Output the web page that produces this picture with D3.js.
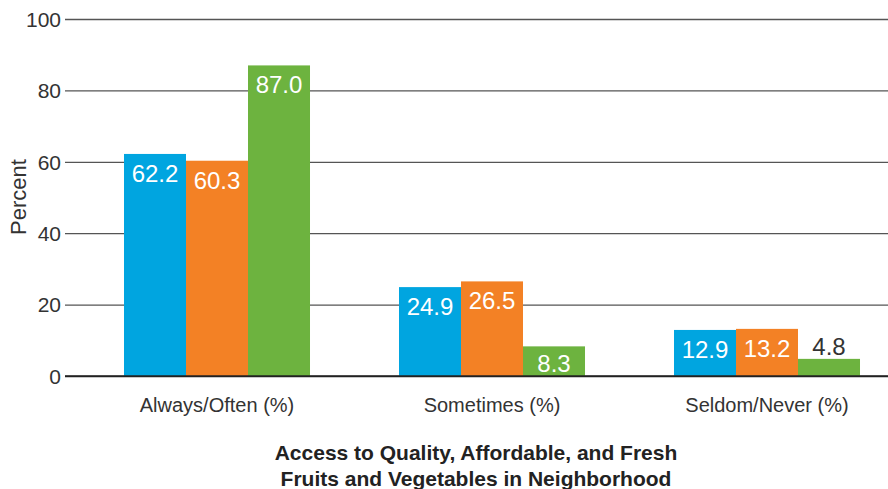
<!DOCTYPE html>
<html>
<head>
<meta charset="utf-8">
<script src="https://cdn.jsdelivr.net/npm/d3@7"></script>
<style>
  body { margin: 0; background: #fff; }
  text { font-family: "Liberation Sans", Arial, sans-serif; }
</style>
</head>
<body>
<div id="chart"></div>
<script>
var categories = ["Always/Often (%)", "Sometimes (%)", "Seldom/Never (%)"];
var seriesNames = ["s1", "s2", "s3"];
var blueValues = [62.2, 24.9, 12.9];
var orangeValues = [60.3, 26.5, 13.2];
var greenValues = [87.0, 8.3, 4.8];
var yTicks = [0, 20, 40, 60, 80, 100];
var colors = ["#00a5e0", "#f38125", "#6db33f"];

var width = 888, height = 489;

var svg = d3.select("#chart").append("svg")
  .attr("width", width)
  .attr("height", height);

var y = d3.scaleLinear().domain([0, 100]).range([376, 19]);

var x = d3.scaleBand()
  .domain(categories)
  .range([79.5, 904.5])
  .paddingInner(0.3236)
  .paddingOuter(0.1618);

var xs = d3.scaleBand()
  .domain(seriesNames)
  .range([0, x.bandwidth()]);

// gridlines
var yAxis = d3.axisLeft(y)
  .tickValues(yTicks)
  .tickSize(-(888 - 65))
  .tickPadding(4);

var gAxis = svg.append("g")
  .attr("transform", "translate(65,0)")
  .call(yAxis);
gAxis.select(".domain").remove();
gAxis.selectAll(".tick line")
  .attr("stroke", function(d) { return d === 0 ? "#222" : "#555"; })
  .attr("stroke-width", 1.3);
gAxis.selectAll(".tick text")
  .attr("fill", "#333")
  .style("font-size", "21px")
  .attr("dy", "0.35em");

// bars
var rows = categories.map(function(c, i) {
  return [blueValues[i], orangeValues[i], greenValues[i]];
});

var groups = svg.selectAll(".grp")
  .data(rows)
  .enter().append("g")
  .attr("transform", function(d, i) { return "translate(" + x(categories[i]) + ",0)"; });

groups.selectAll("rect")
  .data(function(d) { return d; })
  .enter().append("rect")
  .attr("x", function(d, j) { return xs(seriesNames[j]); })
  .attr("y", function(d) { return y(d); })
  .attr("width", xs.bandwidth())
  .attr("height", function(d) { return y(0) - y(d); })
  .attr("fill", function(d, j) { return colors[j]; });

groups.selectAll(".lbl")
  .data(function(d) { return d; })
  .enter().append("text")
  .attr("class", "lbl")
  .attr("x", function(d, j) { return xs(seriesNames[j]) + xs.bandwidth() / 2; })
  .attr("y", function(d) {
    var h = y(0) - y(d);
    if (h < 24) return y(d) - 4;
    return Math.min(y(d) + 28, y(0) - 4);
  })
  .attr("text-anchor", "middle")
  .attr("fill", function(d) { return (y(0) - y(d)) < 24 ? "#333" : "#fff"; })
  .style("font-size", "24px")
  .text(function(d) { return d.toFixed(1); });

// bottom 0 line on top of bars
svg.append("line")
  .attr("x1", 65).attr("x2", 888)
  .attr("y1", y(0)).attr("y2", y(0))
  .attr("stroke", "#222").attr("stroke-width", 1.3);

// category labels
svg.selectAll(".cat")
  .data(categories)
  .enter().append("text")
  .attr("x", function(d) { return x(d) + x.bandwidth() / 2; })
  .attr("y", 412)
  .attr("text-anchor", "middle")
  .attr("fill", "#333")
  .style("font-size", "20px")
  .text(function(d) { return d; });

// y title
svg.append("text")
  .attr("transform", "translate(26,197) rotate(-90)")
  .attr("text-anchor", "middle")
  .attr("fill", "#333")
  .style("font-size", "22px")
  .text("Percent");

// x title
var xTitle = ["Access to Quality, Affordable, and Fresh", "Fruits and Vegetables in Neighborhood"];
svg.selectAll(".xt")
  .data(xTitle)
  .enter().append("text")
  .attr("x", 476)
  .attr("y", function(d, i) { return 460 + i * 26; })
  .attr("text-anchor", "middle")
  .attr("fill", "#222")
  .style("font-size", "21px")
  .style("font-weight", "bold")
  .text(function(d) { return d; });
</script>
</body>
</html>
